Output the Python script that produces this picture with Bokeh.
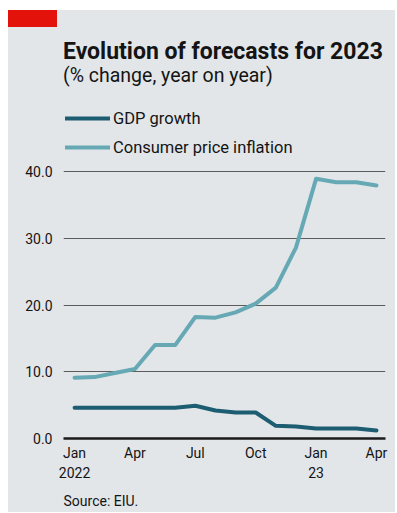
from bokeh.plotting import figure
from bokeh.layouts import column
from bokeh.models import Range1d, FixedTicker, Label, Legend, LegendItem, Div
from bokeh.embed import file_html
from bokeh.resources import INLINE

# ---- data ----
months = list(range(16))  # Jan 2022 .. Apr 2023
gdp_growth = [4.6, 4.6, 4.6, 4.6, 4.6, 4.6, 4.9, 4.2, 3.9, 3.9, 1.9, 1.8, 1.5, 1.5, 1.5, 1.2]
cpi_inflation = [9.1, 9.2, 9.8, 10.4, 14.0, 14.0, 18.2, 18.1, 18.9, 20.2, 22.6, 28.6, 38.9, 38.4, 38.4, 37.9]
x_ticks = [0, 3, 6, 9, 12, 15]
x_tick_labels = ["Jan\n2022", "Apr", "Jul", "Oct", "Jan\n23", "Apr"]
y_ticks = [0, 10, 20, 30, 40]
y_tick_labels = ["0.0", "10.0", "20.0", "30.0", "40.0"]

title_text = "Evolution of forecasts for 2023"
subtitle_text = "(% change, year on year)"
source_text = "Source: EIU."

BG = "#e2e6e9"
GDP_C = "#1d5d72"
CPI_C = "#66a9b5"
RED = "#e3120b"
INK = "#141414"
FONT = "Roboto"

W = 387
H_HEAD, H_MAIN, H_FOOT = 85, 397, 20
LEFT, RIGHT, BOTTOM = 55, 10, 54
X0, X1 = -0.55, 15.45
PPY = 6.675
Y1 = (H_MAIN - BOTTOM) / PPY

# ---- header: red tag, title, subtitle ----
head_html = (
    f'<div style="position:relative;width:{W}px;height:{H_HEAD}px;background:{BG};'
    f'font-family:{FONT};color:{INK};">'
    f'<div style="position:absolute;left:0;top:0;width:49px;height:17px;background:{RED};"></div>'
    f'<div style="position:absolute;left:{LEFT}px;top:30px;font-size:23px;font-weight:bold;'
    f'line-height:1;white-space:nowrap;">{title_text}</div>'
    f'<div style="position:absolute;left:{LEFT}px;top:55.5px;font-size:19.5px;'
    f'line-height:1;white-space:nowrap;">{subtitle_text}</div>'
    '</div>'
)
head = Div(text=head_html, width=W, height=H_HEAD, margin=0)

# ---- main chart ----
p = figure(width=W, height=H_MAIN, output_backend="svg", toolbar_location=None,
           x_range=Range1d(X0, X1), y_range=Range1d(0, Y1),
           min_border_left=LEFT, min_border_right=RIGHT,
           min_border_top=0, min_border_bottom=BOTTOM)
p.background_fill_color = BG
p.border_fill_color = BG
p.outline_line_color = None

r_gdp = p.line(months, gdp_growth, line_color=GDP_C, line_width=4, line_join="round", line_cap="round")
r_cpi = p.line(months, cpi_inflation, line_color=CPI_C, line_width=4, line_join="round", line_cap="round")

p.xaxis.ticker = FixedTicker(ticks=x_ticks)
p.xaxis.major_label_overrides = dict(zip(x_ticks, x_tick_labels))
p.xaxis.axis_line_color = "#1a1a1a"
p.xaxis.axis_line_width = 2.5
p.xaxis.major_tick_line_color = None
p.xaxis.minor_tick_line_color = None
p.xaxis.major_label_standoff = 0
p.xaxis.major_label_text_font = FONT
p.xaxis.major_label_text_font_size = "14px"
p.xaxis.major_label_text_line_height = 1.3
p.xaxis.major_label_text_color = INK

p.yaxis.ticker = FixedTicker(ticks=y_ticks)
p.yaxis.major_label_overrides = dict(zip(y_ticks, y_tick_labels))
p.yaxis.axis_line_color = None
p.yaxis.major_tick_line_color = None
p.yaxis.minor_tick_line_color = None
p.yaxis.major_label_standoff = 5
p.yaxis.major_label_text_font = FONT
p.yaxis.major_label_text_font_size = "14px"
p.yaxis.major_label_text_color = INK

p.xgrid.grid_line_color = None
p.ygrid.ticker = FixedTicker(ticks=y_ticks[1:])
p.ygrid.grid_line_color = "#5c5c5c"
p.ygrid.grid_line_width = 1

legend = Legend(items=[LegendItem(label="GDP growth", renderers=[r_gdp]),
                       LegendItem(label="Consumer price inflation", renderers=[r_cpi])],
                location=(2, 281), orientation="vertical",
                glyph_width=45, glyph_height=20, spacing=9, padding=0, margin=0,
                label_standoff=3, label_text_font=FONT, label_text_font_size="16.5px",
                label_text_color=INK, background_fill_alpha=0,
                border_line_color=None)
p.add_layout(legend)

# ---- footer: source (frame aligned with the chart's frame) ----
foot = figure(width=W, height=H_FOOT, output_backend="svg", toolbar_location=None,
              x_range=Range1d(0, W - LEFT - RIGHT), y_range=Range1d(H_FOOT, 0),
              x_axis_location=None, y_axis_location=None,
              min_border_left=LEFT, min_border_right=RIGHT,
              min_border_top=0, min_border_bottom=0)
foot.background_fill_color = BG
foot.border_fill_color = BG
foot.outline_line_color = None
foot.grid.visible = False
foot.add_layout(Label(x=0, y=8, text=source_text, text_font=FONT,
                      text_font_size="14px", text_color=INK, text_baseline="middle"))

layout = column(head, p, foot, spacing=0)
layout.margin = (10, 2, 0, 8)
layout.styles = {"background-color": BG}

open("out.html", "w").write(file_html(layout, INLINE))
